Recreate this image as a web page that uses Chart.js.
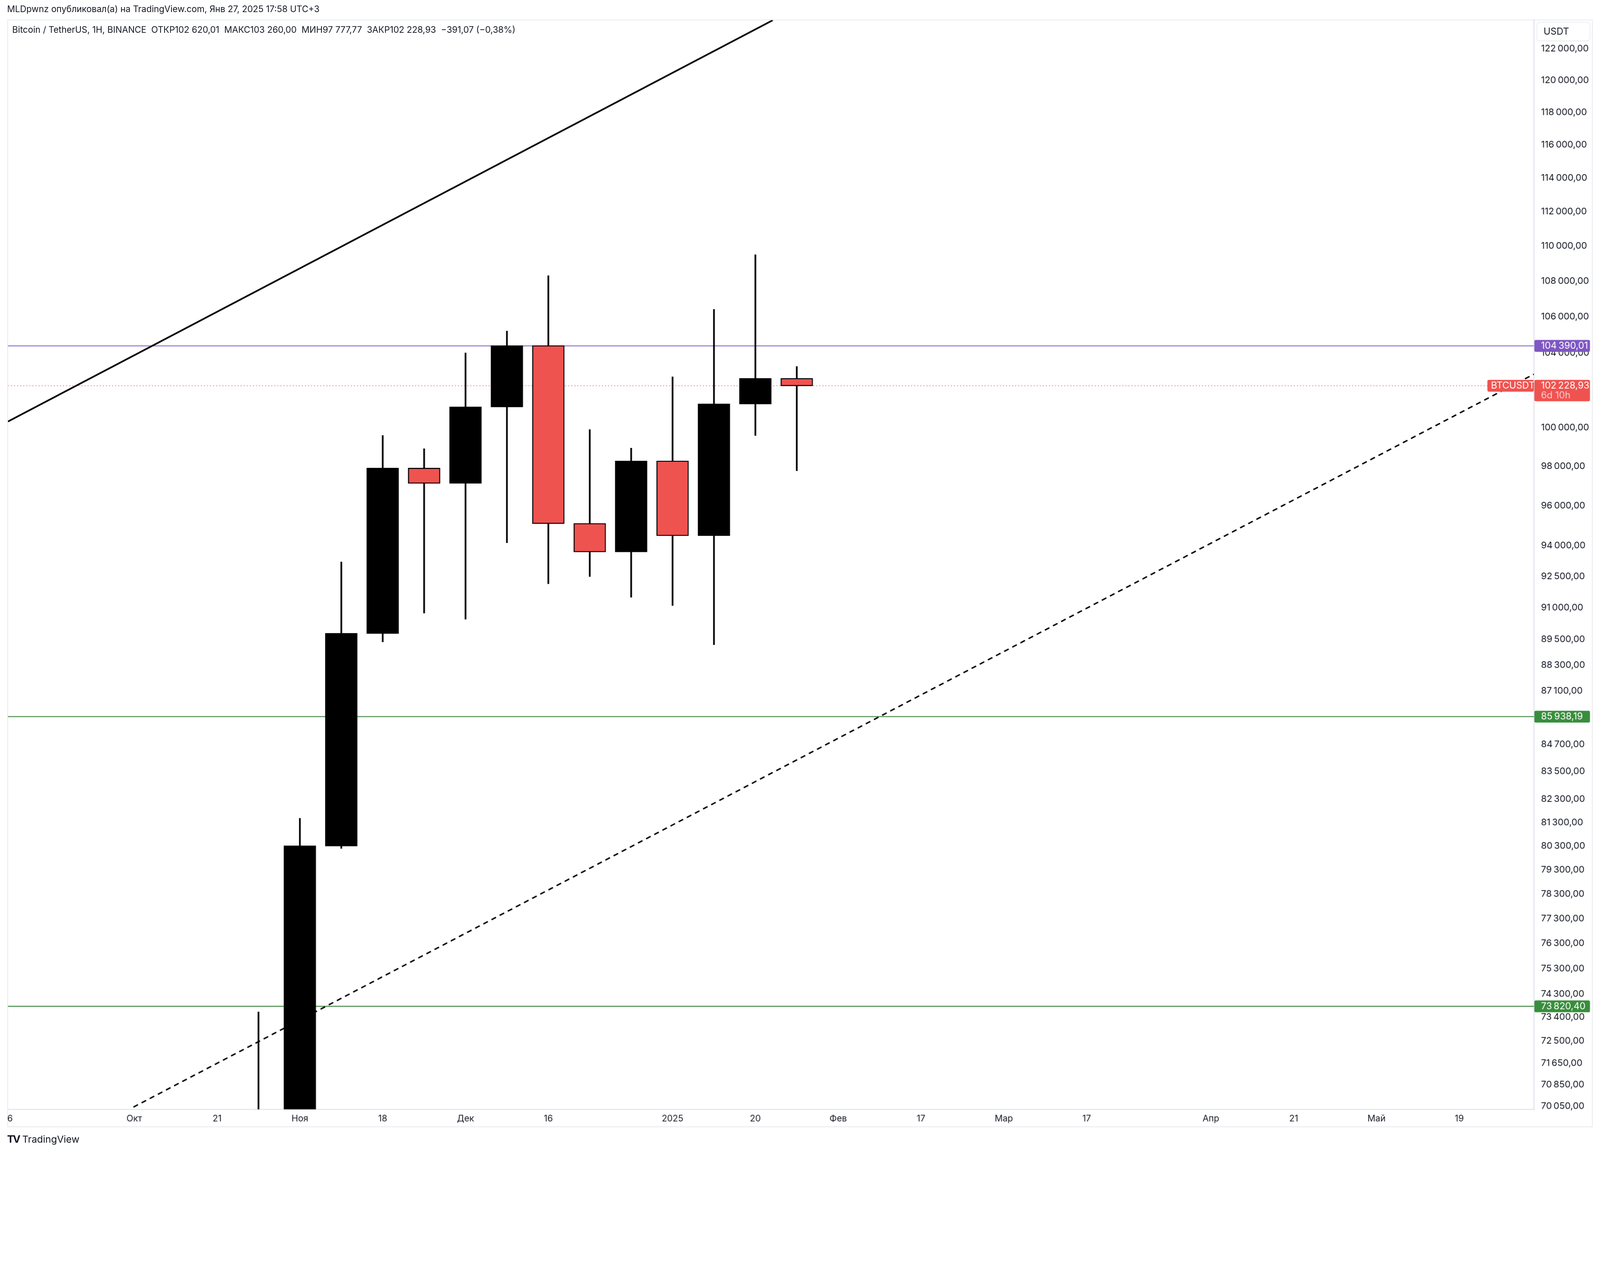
<!DOCTYPE html>
<html>
<head>
<meta charset="utf-8">
<script src="https://cdn.jsdelivr.net/npm/chart.js@4"></script>
<style>
  html, body { margin: 0; padding: 0; background: #fff; overflow: hidden; }
  #page { position: absolute; left: 0; top: 0; width: 1568px; height: 1130px; transform-origin: 0 0; font-family: Inter, "Noto Sans", sans-serif; color: #131722; }
  .txt { position: absolute; font-size: 8.6px; white-space: nowrap; }
  #frame { position: absolute; left: 7px; top: 18.5px; width: 1554px; height: 1086px; border: 1px solid #eceef3; box-sizing: border-box; }
  #wrap { position: absolute; left: 7px; top: 18.5px; width: 1554px; height: 1086px; }
</style>
</head>
<body>
<div id="page">
  <div class="txt" style="left:7px;top:4px;">MLDpwnz опубликовал(а) на TradingView.com, Янв 27, 2025 17:58 UTC+3</div>
  <div id="frame"></div>
  <div id="wrap"><canvas id="chart"></canvas></div>
  <div class="txt" style="left:12px;top:23.5px;">Bitcoin / TetherUS, 1H, BINANCE&nbsp; ОТКР102 620,01&nbsp; МАКС103 260,00&nbsp; МИН97 777,77&nbsp; ЗАКР102 228,93&nbsp; −391,07 (−0,38%)</div>
  <div class="txt" style="left:7px;top:1110px;font-size:9.5px;"><b style="font-size:10px;letter-spacing:-1px;">TV</b> TradingView</div>
</div>
<script>
// weekly candles, x = week index counted from Sep 16 2024
const weeks  = [6, 7, 8, 9, 10, 11, 12, 13, 14, 15, 16, 17, 18, 19];
const opens  = [67950, 68775, 80300, 89770, 97900, 97130, 101100, 104400, 95100, 93700, 98270, 94500, 101260, 102620];
const highs  = [73600, 81470, 93200, 99590, 98900, 104000, 105200, 108300, 99900, 98930, 102700, 106400, 109500, 103260];
const lows   = [66800, 66835, 80200, 89380, 90740, 90450, 94150, 92150, 92500, 91500, 91100, 89250, 99600, 97778];
const closes = [68700, 80300, 89770, 97900, 97130, 101100, 104400, 95100, 93700, 98270, 94500, 101260, 102620, 102229];

const tickWeeks  = [0, 3, 5, 7, 9, 11, 13, 16, 18, 20, 22, 24, 26, 29, 31, 33, 35];
const tickLabels = ['6', 'Окт', '21', 'Ноя', '18', 'Дек', '16', '2025', '20', 'Фев', '17', 'Мар', '17', 'Апр', '21', 'Май', '19'];

const priceTicks = [122000, 120000, 118000, 116000, 114000, 112000, 110000, 108000, 106000, 104000,
  100000, 98000, 96000, 94000, 92500, 91000, 89500, 88300, 87100, 84700, 83500, 82300, 81300, 80300,
  79300, 78300, 77300, 76300, 75300, 74300, 73400, 72500, 71650, 70850, 70050];

const resistance = 104390.01;
const support1 = 85938.19;
const support2 = 73820.40;
const lastPrice = 102228.93;

const upperTrend = [{x: -0.05, y: 100330}, {x: 18.42, y: 123840}];
const lowerTrend = [{x: 2.98, y: 70020}, {x: 36.8, y: 102850}];

const X_MIN = -0.05, X_MAX = 36.8;
const RED = '#ef5350';

// fit the 1568-wide layout to whatever the window is
const S = window.innerWidth / 1568;
document.getElementById('page').style.transform = 'scale(' + S + ')';

function fmt(v) {
  const s = v.toFixed(2).split('.');
  return s[0].replace(/\B(?=(\d{3})+(?!\d))/g, '\u202f') + ',' + s[1];
}
function hline(y) { return [{x: X_MIN, y: y}, {x: X_MAX, y: y}]; }

function roundRect(ctx, x, y, w, h, r) {
  ctx.beginPath();
  ctx.moveTo(x + r, y);
  ctx.arcTo(x + w, y, x + w, y + h, r);
  ctx.arcTo(x + w, y + h, x, y + h, r);
  ctx.arcTo(x, y + h, x, y, r);
  ctx.arcTo(x, y, x + w, y, r);
  ctx.closePath();
}

const badges = {
  id: 'badges',
  afterDraw(chart) {
    const ctx = chart.ctx, ys = chart.scales.y, area = chart.chartArea;
    const x0 = area.right + 0.5;
    ctx.save();
    ctx.font = '9.2px Inter, sans-serif';
    ctx.textBaseline = 'middle';
    // USDT box
    ctx.strokeStyle = '#e6e8ee'; ctx.lineWidth = 0.6;
    roundRect(ctx, x0 + 2.5, 2.8, 52, 18.3, 3); ctx.stroke();
    ctx.fillStyle = '#131722'; ctx.fillText('USDT', x0 + 9, 12);
    function badge(v, color, h) {
      const y = ys.getPixelForValue(v);
      ctx.fillStyle = color;
      roundRect(ctx, x0, y - 5.8, 54.5, h, 1.5); ctx.fill();
      ctx.fillStyle = '#fff';
      ctx.fillText(fmt(v), x0 + 6.5, y);
      return y;
    }
    badge(resistance, '#7e57c2', 11.6);
    badge(support1, '#388e3c', 11.6);
    badge(support2, '#388e3c', 11.6);
    const y = badge(lastPrice, RED, 21);
    ctx.fillStyle = 'rgba(255,255,255,0.7)';
    ctx.fillText('6d 10h', x0 + 6.5, y + 9.5);
    ctx.fillStyle = RED;
    roundRect(ctx, area.right - 45.5, y - 5.8, 45.5, 11.6, 1.5); ctx.fill();
    ctx.fillStyle = '#fff';
    ctx.fillText('BTCUSDT', area.right - 42, y);
    ctx.restore();
  }
};

new Chart(document.getElementById('chart'), {
  data: {
    datasets: [
      { type: 'line', data: hline(resistance), borderColor: '#9575cd', borderWidth: 1, pointRadius: 0, order: 5 },
      { type: 'line', data: hline(support1), borderColor: '#4f8f50', borderWidth: 1, pointRadius: 0, order: 5 },
      { type: 'line', data: hline(support2), borderColor: '#4f8f50', borderWidth: 1, pointRadius: 0, order: 5 },
      { type: 'line', data: hline(lastPrice), borderColor: RED, borderWidth: 0.6, borderDash: [1, 2], pointRadius: 0, order: 5 },
      { type: 'bar', data: weeks.map((w, i) => ({x: w, y: [lows[i], highs[i]]})), backgroundColor: '#000',
        barThickness: 1, grouped: false, order: 3 },
      { type: 'bar', data: weeks.map((w, i) => ({x: w, y: [opens[i], closes[i]]})),
        backgroundColor: closes.map((c, i) => c >= opens[i] ? '#000' : RED),
        borderColor: '#000', borderWidth: 1, borderSkipped: false, barThickness: 31, grouped: false, order: 2 },
      { type: 'line', data: upperTrend, borderColor: '#000', borderWidth: 1.6, pointRadius: 0, order: 1 },
      { type: 'line', data: lowerTrend, borderColor: '#000', borderWidth: 1.4, borderDash: [5, 4], pointRadius: 0, order: 1 }
    ]
  },
  options: {
    responsive: true,
    maintainAspectRatio: false,
    devicePixelRatio: S * (window.devicePixelRatio || 1),
    animation: false,
    layout: { padding: 0 },
    plugins: { legend: { display: false }, tooltip: { enabled: false } },
    scales: {
      x: {
        type: 'linear', min: X_MIN, max: X_MAX, offset: false,
        afterBuildTicks: s => { s.ticks = tickWeeks.map(v => ({value: v})); },
        afterFit: s => { s.height = 18; s.paddingLeft = 0; s.paddingRight = 0; },
        grid: { display: false, drawTicks: false },
        border: { color: '#e0e3eb', width: 1 },
        ticks: { autoSkip: false, maxRotation: 0, padding: 4, color: '#131722',
          font: { family: 'Inter', size: 8.6 },
          callback: v => tickLabels[tickWeeks.indexOf(v)] }
      },
      y: {
        type: 'logarithmic', position: 'right', min: 69940, max: 123840,
        afterBuildTicks: s => { s.ticks = priceTicks.map(v => ({value: v})); },
        afterFit: s => { s.width = 58; s.paddingTop = 0; s.paddingBottom = 0; },
        grid: { display: false, drawTicks: false },
        border: { color: '#e0e3eb', width: 1 },
        ticks: { autoSkip: false, padding: 7, color: '#131722',
          font: { family: 'Inter', size: 9 },
          callback: v => fmt(v) }
      }
    }
  },
  plugins: [badges]
});
</script>
</body>
</html>
